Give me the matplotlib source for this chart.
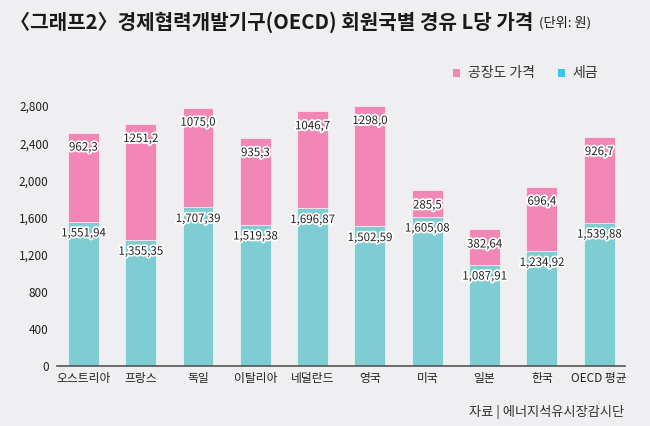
import matplotlib
matplotlib.use("Agg")
import matplotlib.pyplot as plt
import matplotlib.patheffects as pe
from matplotlib.patches import Rectangle
import numpy as np

plt.rcParams['font.family'] = ['Noto Sans CJK KR', 'DejaVu Sans']

countries = ['오스트리아', '프랑스', '독일', '이탈리아', '네덜란드', '영국', '미국', '일본', '한국', 'OECD 평균']
tax = [1551.94, 1355.35, 1707.39, 1519.38, 1696.87, 1502.59, 1605.08, 1087.91, 1234.92, 1539.88]
factory = [962.3, 1251.2, 1075.0, 935.3, 1046.7, 1298.0, 285.5, 382.64, 696.4, 926.7]
yticks = [0, 400, 800, 1200, 1600, 2000, 2400, 2800]

BG = '#EFEEF0'
TEAL = '#7DCDD2'
PINK = '#F287B6'
PINK_LEG = '#F287B6'
CYAN_LEG = '#3EC4F0'

fig = plt.figure(figsize=(6.5, 4.26), dpi=100, facecolor=BG)
ax = fig.add_axes([57/650, 60/426, 568/650, 260/426])
ax.set_facecolor(BG)

x = np.arange(len(countries))
w = 0.54
ax.bar(x, tax, w, color=TEAL, edgecolor='white', linewidth=0.4, clip_on=False)
ax.bar(x, factory, w, bottom=tax, color=PINK, edgecolor='white', linewidth=0.4, clip_on=False)

stroke = [pe.withStroke(linewidth=2.6, foreground='white')]

def fmt_f(v):
    s = f"{v:.1f}" if abs(round(v, 1) - v) < 1e-9 else f"{v:.2f}"
    return s.replace('.', ',')

def fmt_t(v):
    return f"{v:,.2f}".replace('.', ',')

for xi, t, f in zip(x, tax, factory):
    ax.annotate(fmt_t(t), (xi, t), xytext=(0, -8), textcoords='offset points',
                ha='center', va='center', fontsize=8.3, color='#222222',
                path_effects=stroke)
    ax.annotate(fmt_f(f), (xi, t + f), xytext=(0, -10.5), textcoords='offset points',
                ha='center', va='center', fontsize=8.3, color='#222222',
                path_effects=stroke)

ax.set_xlim(-0.46, 9.45)
ax.set_ylim(0, 2800)
ax.set_yticks(yticks)
ax.set_yticklabels([f"{v:,}" for v in yticks], fontsize=8.5, color='#222222')
ax.set_xticks(x)
ax.set_xticklabels(countries, fontsize=8.5, color='#222222')
ax.tick_params(length=0, pad=4)
ax.tick_params(axis='y', pad=6)
for s in ['top', 'right', 'left']:
    ax.spines[s].set_visible(False)
ax.spines['bottom'].set_color('#555555')
ax.spines['bottom'].set_linewidth(1.2)

fig.text(10/650, 1 - 22/426, '〈그래프2〉경제협력개발기구(OECD) 회원국별 경유 L당 가격',
         fontsize=14.5, fontweight='bold', color='#1a1a1a', va='center', ha='left')
fig.text(539/650, 1 - 23/426, '(단위: 원)', fontsize=9.5, color='#1a1a1a', va='center', ha='left')

# legend
fig.patches.append(Rectangle((453/650, 1 - 77/426), 7/650, 8/426, transform=fig.transFigure,
                             facecolor=PINK_LEG, edgecolor='none'))
fig.text(468/650, 1 - 73/426, '공장도 가격', fontsize=10, color='#333333', va='center', ha='left')
fig.patches.append(Rectangle((558/650, 1 - 77/426), 7/650, 8/426, transform=fig.transFigure,
                             facecolor=CYAN_LEG, edgecolor='none'))
fig.text(572/650, 1 - 73/426, '세금', fontsize=10, color='#333333', va='center', ha='left')

fig.text(624/650, 1 - 412/426, '자료 | 에너지석유시장감시단', fontsize=9.5, color='#333333',
         va='center', ha='right')

fig.savefig('out.png', dpi=100, facecolor=BG)
